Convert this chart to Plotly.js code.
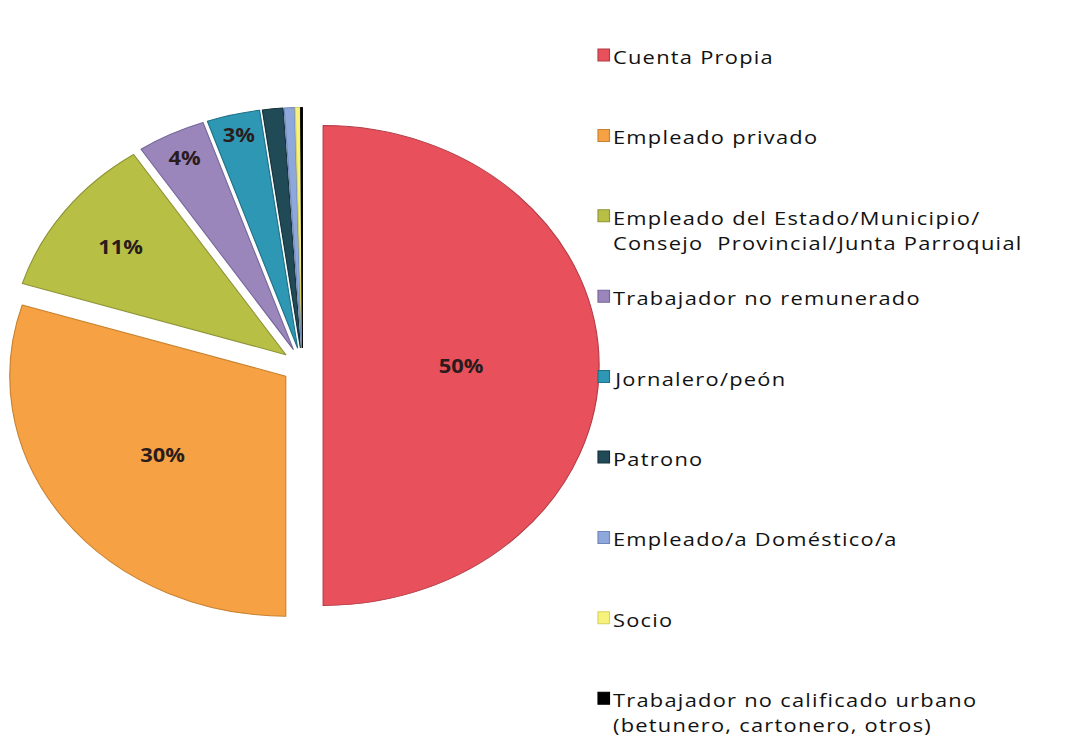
<!DOCTYPE html>
<html>
<head>
<meta charset="utf-8">
<script src="https://cdn.plot.ly/plotly-3.0.1.min.js"></script>
<style>
html, body { margin: 0; padding: 0; background: #fff; overflow: hidden; }
body { width: 1066px; height: 737px; }
/* the original picture is a horizontally stretched export: the pie is an ellipse
   and the text is wide, so the whole plot is drawn narrower and stretched back */
#chart { width: 927px; height: 737px; transform: scaleX(1.15); transform-origin: 0 0; }
#chart .annotation-text { letter-spacing: 1.1px; }
</style>
</head>
<body>
<div id="chart"></div>
<script>
// categories, in the order the slices go round (clockwise from 12 o'clock)
var categories = [
    'Cuenta Propia',
    'Empleado privado',
    'Empleado del Estado/Municipio/<br>Consejo  Provincial/Junta Parroquial',
    'Trabajador no remunerado',
    'Jornalero/peón',
    'Patrono',
    'Empleado/a Doméstico/a',
    'Socio',
    'Trabajador no calificado urbano<br>(betunero, cartonero, otros)'
];

// share of each group, percent
var shares = [50, 29.8, 10.9, 4.0, 3.1, 1.2, 0.6, 0.3, 0.1];

var sliceColors = ['#E8505B', '#F6A143', '#B8BF45', '#9A86BA', '#2E98B4',
                   '#214A57', '#8FA8DC', '#F7F27C', '#000000'];
var edgeColors = ['#B23C46', '#C8822F', '#8E9436', '#76669A', '#1F7189',
                  '#15323B', '#6F86B8', '#D8D260', '#000000'];

// only the bigger slices get a label
var total = shares.reduce(function(a, b) { return a + b; }, 0);
var pctText = shares.map(function(v) {
    var p = Math.round(v / total * 100);
    return p >= 2 ? p + '%' : '';
});

var W = 927, H = 737;
var font = 'Open Sans, Noto Sans, sans-serif';

var pie = {
    type: 'pie',
    labels: categories,
    values: shares,
    text: pctText,
    textinfo: 'text',
    textposition: 'inside',
    insidetextorientation: 'horizontal',
    insidetextfont: {family: font, size: 19, color: '#2a1c1c', weight: 'bold'},
    sort: false,
    direction: 'clockwise',
    rotation: 0,
    pull: 0.075,
    marker: {colors: sliceColors, line: {color: edgeColors, width: 1}},
    domain: {x: [0.0054, 0.562], y: [0.154, 0.8541]},
    hoverinfo: 'label+percent',
    showlegend: false
};

// legend drawn by hand so the entries can be spread out like the original
var shapes = [];
var annotations = [];
var rowTop = 55, rowStep = 80.4;
categories.forEach(function(name, i) {
    var cy = rowTop + i * rowStep;
    shapes.push({
        type: 'rect', xref: 'paper', yref: 'paper',
        x0: 520 / W, x1: 530 / W,
        y0: 1 - (cy + 6) / H, y1: 1 - (cy - 6) / H,
        fillcolor: sliceColors[i],
        line: {color: edgeColors[i], width: 1}
    });
    annotations.push({
        xref: 'paper', yref: 'paper',
        x: 531 / W, y: 1 - (cy - 13) / H,
        xanchor: 'left', yanchor: 'top', align: 'left',
        showarrow: false,
        text: name,
        font: {family: font, size: 19, color: '#111'}
    });
});

var layout = {
    width: W,
    height: H,
    margin: {l: 0, r: 0, t: 0, b: 0},
    paper_bgcolor: '#fff',
    showlegend: false,
    shapes: shapes,
    annotations: annotations
};

Plotly.newPlot('chart', [pie], layout, {displayModeBar: false});
</script>
</body>
</html>
